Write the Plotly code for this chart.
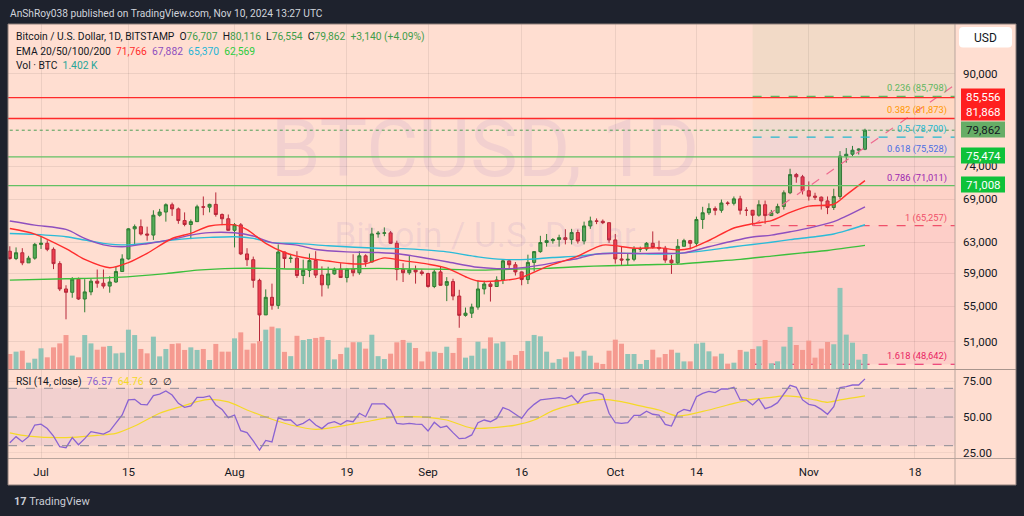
import math
import pandas as pd
import plotly.graph_objects as go

# ---------------- DATA ----------------
dates = pd.date_range("2024-06-26", "2024-11-10", freq="D")

open_ = [
    61800, 60850, 61600, 60300, 60900,
    62700, 62850, 62050, 60200, 57050, 56650, 58250, 55850, 56700, 58000,
    57750, 57400, 57900, 59200, 60800, 64800, 65100, 64100, 63950, 66700,
    67150, 68200, 67600, 65950, 65400, 65800, 67900, 67850, 68250, 66800, 66200,
    64600, 65350, 61450, 60700, 58100, 54000, 56050, 55100, 61700, 60850,
    60900, 58700, 59350, 60600, 58750, 57550, 58900, 59500, 58450, 59500,
    59050, 61200, 60400, 64100, 64200, 64250, 62850, 59450, 59050, 59400, 59150,
    58950, 57350, 59150, 57500, 57950, 56200, 53950, 54200, 54900, 57050,
    57650, 57350, 58150, 60550, 60050, 59150, 58200, 60350, 61750, 62950,
    63200, 63350, 63600, 63350, 64300, 63150, 65200, 65900, 65850, 65650,
    63300, 60800, 60650, 60750, 62100, 62100, 62850, 62300, 62200, 60650,
    60300, 62450, 63200, 62850, 66100, 67050, 67650, 67400, 68450, 68400,
    69050, 67400, 67400, 66700, 68200, 66650, 67050, 67950, 69950, 72700, 72350,
    70250, 69450, 69300, 68750, 67800, 69400, 75600, 75900, 76550, 76707,
]
high = [
    62450, 62300, 62200, 61200, 62900,
    63800, 63250, 62300, 60500, 57500, 58500, 58450, 58250, 58300, 59450,
    59450, 58600, 59800, 61400, 64900, 65400, 66100, 65100, 67400, 67600,
    68400, 68500, 67800, 67100, 66100, 68200, 69400, 68350, 70000, 66950, 66800,
    65600, 65600, 62200, 61100, 58300, 57000, 57700, 62700, 61750, 61450,
    61800, 60700, 61500, 61800, 59850, 59800, 59700, 60250, 59600, 61400,
    61800, 61400, 64950, 64500, 65000, 64500, 63200, 60250, 61200, 59950, 59450,
    59050, 59400, 59800, 58500, 58300, 56950, 54850, 55300, 58100, 58050,
    57950, 58600, 60650, 60650, 60400, 59200, 61350, 61800, 63850, 64100,
    63550, 64000, 64750, 64800, 64700, 65800, 66500, 66250, 66100, 65650,
    64100, 62400, 61450, 62450, 62400, 63000, 64450, 63200, 62500, 61300,
    63400, 63450, 63300, 66500, 67900, 68400, 67950, 68950, 68700, 69400,
    69500, 67850, 67450, 68850, 68800, 67450, 68350, 70300, 73600, 72950, 72650,
    71650, 69950, 69400, 69400, 70550, 76400, 76900, 77250, 76850, 80116,
]
low = [
    60700, 60650, 60000, 60300, 60700,
    62100, 61800, 59500, 56800, 53500, 56000, 55750, 54300, 56300, 57200,
    57100, 56600, 57800, 59200, 60700, 62500, 63900, 63200, 63300, 66500,
    65800, 66600, 65500, 65150, 63400, 65800, 66700, 67100, 66500, 65300, 64550,
    62300, 61300, 59900, 57200, 49050, 54000, 54600, 54700, 59600, 60300,
    58400, 57650, 58500, 58400, 56150, 57100, 58800, 58400, 57850, 58600,
    58800, 59800, 60350, 63600, 63800, 62800, 58100, 57900, 58800, 57700, 58700,
    57200, 57150, 57450, 55600, 55700, 52550, 53800, 53650, 54600, 56400,
    55550, 57350, 57650, 59600, 58700, 57500, 57650, 59200, 61600, 62400,
    62800, 62400, 62700, 62700, 62800, 62700, 64800, 65450, 65450, 62900,
    60200, 59950, 59900, 60500, 61700, 61850, 62150, 61900, 60300, 58900,
    60100, 62450, 62050, 62450, 64800, 66750, 66700, 67050, 68100, 68100,
    66800, 66600, 65257, 66500, 65500, 66600, 66900, 67500, 69750, 71450, 69700,
    68800, 68900, 67500, 66850, 67450, 69050, 74550, 75600, 75850, 76554,
]
close = [
    60850, 61600, 60300, 60900, 62700,
    62850, 62050, 60200, 57050, 56650, 58250, 55850, 56700, 58000, 57750,
    57400, 57900, 59200, 60800, 64800, 65100, 64100, 63950, 66700, 67150,
    68200, 67600, 65950, 65400, 65800, 67900, 67850, 68250, 66800, 66200, 64600,
    65350, 61450, 60700, 58100, 54000, 56050, 55100, 61700, 60850, 60900,
    58700, 59350, 60600, 58750, 57550, 58900, 59500, 58450, 59500, 59050,
    61200, 60400, 64100, 64200, 64250, 62850, 59450, 59050, 59400, 59150, 58950,
    57350, 59150, 57500, 57950, 56200, 53950, 54200, 54900, 57050, 57650,
    57350, 58150, 60550, 60050, 59150, 58200, 60350, 61750, 62950, 63200,
    63350, 63600, 63350, 64300, 63150, 65200, 65900, 65850, 65650, 63300,
    60800, 60650, 60750, 62100, 62100, 62850, 62300, 62200, 60650, 60300,
    62450, 63200, 62850, 66100, 67050, 67650, 67400, 68450, 68400, 69050,
    67400, 67400, 66700, 68200, 66650, 67050, 67950, 69950, 72700, 72350, 70250,
    69450, 69300, 68750, 67800, 69400, 75600, 75900, 76550, 76722, 79862,
]
volume = [
    1400, 1620, 1710, 590, 960,
    1930, 1090, 2020, 2390, 3170, 1250, 1090, 3170, 2390, 1800,
    2080, 2150, 1460, 1520, 3670, 3170, 1870, 1460, 3020, 1180,
    1870, 2340, 2390, 1780, 2020, 1780, 1870, 840, 2340, 1620, 1620,
    2860, 3420, 1800, 2390, 2600, 3670, 3950, 3800, 1600, 1200,
    3100, 2700, 2800, 2900, 3000, 2700, 900, 1400, 2000, 2500,
    2500, 1900, 3200, 1200, 930, 1430, 2490, 2710, 2460, 1960, 710,
    1620, 1620, 1500, 2080, 1500, 2900, 1060, 1240, 2550, 1900,
    2950, 2390, 2550, 780, 1310, 1680, 2620, 3180, 3050, 1620,
    590, 930, 1080, 1620, 1180, 1710, 1240, 590, 470, 1710,
    2740, 2360, 1400, 1400, 470, 840, 1800, 1080, 1400, 1800,
    1520, 710, 710, 2360, 2460, 1650, 1180, 1430, 500, 590,
    1780, 1620, 1870, 2120, 2710, 530, 720, 2090, 3930, 2240, 1780,
    2650, 1060, 1900, 2520, 2310, 7570, 3210, 2460, 870, 1402,
]
rsi = [
    32.0, 36.3, 32.8, 36.3, 44.4,
    45.0, 42.0, 36.7, 29.3, 28.6, 35.6, 30.7, 34.9, 39.8, 39.0,
    38.1, 40.2, 45.6, 51.4, 61.9, 62.3, 58.8, 58.4, 64.9, 66.0,
    68.1, 65.3, 59.5, 56.7, 57.7, 63.7, 63.7, 64.7, 58.4, 55.3, 49.5,
    51.4, 40.5, 39.1, 33.3, 27.0, 33.7, 32.6, 49.5, 47.9, 47.9,
    44.0, 45.6, 48.4, 44.4, 41.9, 45.6, 46.7, 44.7, 47.4, 46.7,
    52.6, 50.2, 59.1, 59.1, 59.1, 54.9, 45.6, 45.1, 45.6, 45.1, 44.9,
    40.2, 46.3, 42.6, 43.7, 39.1, 34.9, 35.3, 37.5, 46.0, 47.9,
    46.7, 49.0, 56.5, 54.9, 51.9, 49.0, 54.9, 58.8, 61.9, 62.6,
    63.0, 63.5, 62.6, 64.9, 60.0, 65.3, 66.7, 67.0, 65.6, 52.6,
    46.0, 45.6, 46.0, 51.2, 51.2, 54.0, 51.9, 51.4, 44.9, 43.7,
    53.0, 55.3, 54.2, 64.2, 66.5, 67.9, 67.0, 69.5, 69.5, 70.7,
    61.9, 61.9, 58.4, 62.6, 55.8, 57.2, 60.0, 66.0, 72.1, 70.7, 61.9,
    58.8, 57.9, 55.3, 51.9, 57.2, 70.5, 71.2, 72.3, 72.3, 76.57,
]
rsi_ma_dates = ["2024-06-26", "2024-06-29", "2024-07-05", "2024-07-10", "2024-07-13",
                "2024-07-16", "2024-07-20", "2024-07-23", "2024-07-26", "2024-07-28",
                "2024-07-31", "2024-08-03", "2024-08-07", "2024-08-10", "2024-08-14",
                "2024-08-19", "2024-08-22", "2024-08-25", "2024-08-28", "2024-09-01",
                "2024-09-04", "2024-09-08", "2024-09-12", "2024-09-15", "2024-09-18",
                "2024-09-21", "2024-09-24", "2024-09-29", "2024-10-02", "2024-10-05",
                "2024-10-08", "2024-10-11", "2024-10-16", "2024-10-20", "2024-10-23",
                "2024-10-26", "2024-10-28", "2024-10-30", "2024-11-02", "2024-11-04",
                "2024-11-06", "2024-11-10"]
rsi_ma = [39.0, 36.7, 35.6, 37.2, 38.6, 43.7, 52.6, 56.7, 60.7, 62.3,
          60.5, 54.9, 48.4, 44.4, 41.4, 44.4, 46.7, 49.0, 50.2, 49.8,
          47.9, 42.3, 42.8, 44.4, 47.9, 54.4, 58.4, 62.3, 60.7, 57.7,
          54.9, 50.7, 54.9, 59.5, 62.3, 63.7, 64.7, 64.2, 61.9, 60.2,
          61.9, 64.76]

ema20_dates = ["2024-06-26", "2024-06-30", "2024-07-05", "2024-07-08", "2024-07-12", "2024-07-15",
               "2024-07-18", "2024-07-22", "2024-07-25", "2024-07-28", "2024-08-01", "2024-08-03",
               "2024-08-06", "2024-08-09", "2024-08-12", "2024-08-16", "2024-08-19", "2024-08-22",
               "2024-08-25", "2024-08-28", "2024-09-01", "2024-09-04", "2024-09-07", "2024-09-09",
               "2024-09-12", "2024-09-16", "2024-09-20", "2024-09-25", "2024-09-29", "2024-10-04",
               "2024-10-08", "2024-10-11", "2024-10-13", "2024-10-16", "2024-10-20", "2024-10-23",
               "2024-10-26", "2024-10-29", "2024-11-01", "2024-11-05", "2024-11-07", "2024-11-10"]
ema20 = [64850, 64090, 62140, 60730, 59680, 60330, 61530, 63490, 64190, 65200, 65350, 64690,
         62840, 61630, 60980, 60530, 60230, 60180, 60930, 60580, 60130, 59630, 58550, 58020,
         58020, 58470, 59810, 61160, 62610, 62200, 62240, 61970, 62160, 63220, 64920, 65500,
         65950, 67100, 68000, 68270, 69630, 71766]

ema50_dates = ["2024-06-26", "2024-06-30", "2024-07-05", "2024-07-08", "2024-07-11", "2024-07-14",
               "2024-07-18", "2024-07-22", "2024-07-25", "2024-07-28", "2024-08-01", "2024-08-04",
               "2024-08-07", "2024-08-11", "2024-08-14", "2024-08-19", "2024-08-24", "2024-08-28",
               "2024-09-01", "2024-09-04", "2024-09-09", "2024-09-12", "2024-09-15", "2024-09-19",
               "2024-09-22", "2024-09-25", "2024-09-28", "2024-10-01", "2024-10-04", "2024-10-08",
               "2024-10-12", "2024-10-16", "2024-10-20", "2024-10-23", "2024-10-26", "2024-10-29",
               "2024-11-01", "2024-11-05", "2024-11-07", "2024-11-10"]
ema50 = [65880, 65320, 64720, 63510, 62640, 62390, 62790, 63370, 63940, 64290, 64260, 63820,
         62930, 62610, 62030, 61720, 61630, 61380, 60860, 60440, 59730, 59560, 59600, 60010,
         60440, 60860, 61420, 61530, 61510, 61530, 61590, 62390, 63190, 63690, 63950, 64400,
         64900, 65800, 66560, 67882]

ema100_dates = ["2024-06-26", "2024-06-30", "2024-07-05", "2024-07-08", "2024-07-11", "2024-07-15",
                "2024-07-19", "2024-07-22", "2024-07-25", "2024-07-28", "2024-08-01", "2024-08-04",
                "2024-08-07", "2024-08-11", "2024-08-16", "2024-08-24", "2024-08-28", "2024-09-01",
                "2024-09-04", "2024-09-09", "2024-09-13", "2024-09-17", "2024-09-21", "2024-09-25",
                "2024-09-29", "2024-10-04", "2024-10-08", "2024-10-12", "2024-10-16", "2024-10-20",
                "2024-10-23", "2024-10-26", "2024-10-29", "2024-11-02", "2024-11-05", "2024-11-07",
                "2024-11-10"]
ema100 = [64170, 64040, 63730, 63280, 62840, 62640, 62970, 63280, 63510, 63640, 63730, 63510,
          62930, 62840, 62520, 62190, 62140, 61940, 61720, 61070, 60740, 60740, 60990, 61160,
          61510, 61510, 61420, 61590, 61940, 62390, 62690, 62990, 63340, 63730, 64100, 64550,
          65370]

ema200_dates = ["2024-06-26", "2024-07-05", "2024-07-13", "2024-07-21", "2024-07-26", "2024-08-01",
                "2024-08-06", "2024-08-11", "2024-08-17", "2024-08-24", "2024-08-30", "2024-09-04",
                "2024-09-09", "2024-09-14", "2024-09-20", "2024-09-25", "2024-09-30", "2024-10-06",
                "2024-10-11", "2024-10-16", "2024-10-21", "2024-10-26", "2024-10-31", "2024-11-04",
                "2024-11-10"]
ema200 = [58130, 58300, 58470, 58940, 59370, 59600, 59600, 59510, 59490, 59600, 59510, 59490,
          59370, 59490, 59600, 59810, 59930, 60060, 60140, 60440, 60740, 61160, 61590, 61900,
          62569]

# Fibonacci retracement drawing (ratios / prices as labelled)
fib_ratios = ["0.236", "0.382", "0.5", "0.618", "0.786", "1", "1.618"]
fib_prices = [85798, 81873, 78700, 75528, 71011, 65257, 48642]
fib_dashed = [True, False, True, False, False, True, True]   # others sit under the author's solid lines
fib_zero_price = 92143
fib_start = "2024-10-23"
fib_end = "2024-11-29 12:00"
fib_far = "2024-12-31"

# Horizontal lines drawn by the author
red_levels = [85556, 81868]
green_levels = [75474, 71008]
line_span = ["2024-06-01", "2024-12-31"]

price_ticks = [51000, 55000, 59000, 63000, 69000, 74000, 90000]
rsi_ticks = [25, 50, 75]
x_tick_dates = ["2024-07-01", "2024-07-15", "2024-08-01", "2024-08-19", "2024-09-01",
                "2024-09-16", "2024-10-01", "2024-10-14", "2024-11-01", "2024-11-18"]
x_tick_text = ["Jul", "15", "Aug", "19", "Sep", "16", "Oct", "14", "Nov", "18"]

# ---------------- LAYOUT HELPERS ----------------
W, H = 1024, 516
PL, PR, PT, PB = 8, 955, 24, 458          # plot box (pixels)
PRICE_BOTTOM, RSI_TOP = 369, 370
X0 = pd.Timestamp("2024-06-25 17:00")
PX_PER_DAY = 6.242


def fx(x):
    return (x - PL) / (PR - PL)


def fy(y):
    return (PB - y) / (PB - PT)


def price_at(ypx):
    return 90000 * math.exp(-(ypx - 73.8) / 472.0)


def date_at(xpx):
    return X0 + pd.Timedelta(days=(xpx - PL) / PX_PER_DAY)


X_RANGE = [X0, date_at(PR)]
BG = "#ffded1"
DARK = "#1e222d"
TXT = "#131722"
FONT = "Roboto, sans-serif"

fig = go.Figure()


def add(tr):
    fig.add_trace(tr)


def hline(p, color, width=1.2, dash="solid", span=None):
    xs = span or line_span
    add(go.Scatter(x=xs, y=[p, p], mode="lines", line=dict(color=color, width=width, dash=dash),
                   xaxis="x", yaxis="y", hoverinfo="skip", showlegend=False))


# watermark (behind everything)
add(go.Scatter(x=[date_at(485)], y=[price_at(156)], mode="text", text=["BTCUSD, 1D"],
               textfont=dict(size=80, color="rgba(126,87,194,0.10)", family=FONT),
               xaxis="x", yaxis="y", hoverinfo="skip", showlegend=False))
add(go.Scatter(x=[date_at(485)], y=[price_at(238)], mode="text", text=["Bitcoin / U.S. Dollar"],
               textfont=dict(size=35, color="rgba(126,87,194,0.10)", family=FONT),
               xaxis="x", yaxis="y", hoverinfo="skip", showlegend=False))

# fib background bands (each band takes the colour of its lower level)
fib_fills = ["rgba(76,175,80,0.075)", "rgba(255,152,0,0.06)", "rgba(0,188,212,0.06)",
             "rgba(41,98,255,0.06)", "rgba(156,39,176,0.06)", "rgba(242,54,69,0.07)",
             "rgba(233,30,99,0.08)"]
band_tops = [price_at(0)] + fib_prices[:-1]
for top, bot, col in zip(band_tops, fib_prices, fib_fills):
    add(go.Scatter(x=[fib_start, fib_far, fib_far, fib_start, fib_start], y=[bot, bot, top, top, bot],
                   mode="lines", fill="toself", fillcolor=col, line=dict(width=0),
                   xaxis="x", yaxis="y", hoverinfo="skip", showlegend=False))

vol_colors = ["#8fc4b7" if c >= o else "#f59a90" for o, c in zip(open_, close)]
add(go.Bar(x=dates, y=volume, marker=dict(color=vol_colors, line=dict(width=0)),
           width=0.8 * 86400000, xaxis="x", yaxis="y2", hoverinfo="skip", showlegend=False))

# fib level lines + trend line
fib_line_cols = ["#5fb760", "#ff9800", "#22b8cf", "#4a6fe3", "#9c27b0", "#f0506a", "#e91e63"]
for p, col, dashed in zip(fib_prices, fib_line_cols, fib_dashed):
    if dashed:
        hline(p, col, dash="dash", span=[fib_start, fib_far])
add(go.Scatter(x=[fib_start, fib_end], y=[fib_prices[5], fib_zero_price], mode="lines",
               line=dict(color="#ee6a8f", width=1.2, dash="dash"),
               xaxis="x", yaxis="y", hoverinfo="skip", showlegend=False))

# last-price dotted line
hline(close[-1], "#4f9f55", width=1, dash="dot")

add(go.Candlestick(x=dates, open=open_, high=high, low=low, close=close,
                   increasing=dict(line=dict(color="#2e7d32", width=1), fillcolor="#55ad58"),
                   decreasing=dict(line=dict(color="#b7283a", width=1), fillcolor="#ee3f4f"),
                   xaxis="x", yaxis="y", hoverinfo="skip", showlegend=False))

for xs, ys, col in [(ema200_dates, ema200, "#3cbf3c"), (ema100_dates, ema100, "#2bbbd8"),
                    (ema50_dates, ema50, "#8e4fbf"), (ema20_dates, ema20, "#ff2d2d")]:
    add(go.Scatter(x=xs, y=ys, mode="lines", line=dict(color=col, width=1.4, shape="spline", smoothing=0.8),
                   xaxis="x", yaxis="y", hoverinfo="skip", showlegend=False))

# author's horizontal support / resistance lines
for p in red_levels:
    hline(p, "#ff2a2a", width=1.3)
for p in green_levels:
    hline(p, "#63c063", width=1.3)

add(go.Scatter(x=rsi_ma_dates, y=rsi_ma, mode="lines",
               line=dict(color="#f5d927", width=1.2, shape="spline", smoothing=0.8),
               xaxis="x2", yaxis="y3", hoverinfo="skip", showlegend=False))
add(go.Scatter(x=dates, y=rsi, mode="lines", line=dict(color="#8a63d2", width=1.3),
               xaxis="x2", yaxis="y3", hoverinfo="skip", showlegend=False))

# ---------------- SHAPES ----------------
shapes = []
shapes.append(dict(type="rect", xref="paper", yref="paper", x0=fx(8), x1=fx(1016), y0=fy(485), y1=fy(24),
                   fillcolor=BG, line=dict(width=0), layer="below"))

shapes.append(dict(type="rect", xref="paper", yref="y3", x0=0, x1=1, y0=30, y1=70,
                   fillcolor="rgba(126,87,194,0.10)", line=dict(width=0), layer="below"))
for lv in [70, 50, 30]:
    shapes.append(dict(type="line", xref="paper", yref="y3", x0=0, x1=1, y0=lv, y1=lv,
                       line=dict(color="#8a8a94", width=1, dash="dash")))

sep = "#b9a59d"
shapes.append(dict(type="line", xref="paper", yref="paper", x0=fx(955), x1=fx(955), y0=fy(485), y1=fy(24),
                   line=dict(color=sep, width=1)))
shapes.append(dict(type="line", xref="paper", yref="paper", x0=fx(8), x1=fx(1016), y0=fy(369.5), y1=fy(369.5),
                   line=dict(color="#a8958d", width=1.2)))
shapes.append(dict(type="line", xref="paper", yref="paper", x0=fx(8), x1=fx(1016), y0=fy(458.5), y1=fy(458.5),
                   line=dict(color=sep, width=1)))
shapes.append(dict(type="rect", xref="paper", yref="paper", x0=fx(8), x1=fx(1016), y0=fy(485), y1=fy(24),
                   fillcolor="rgba(0,0,0,0)", line=dict(color="#8d7f7a", width=1)))

box_x0, box_x1 = fx(961), fx(1005)
price_boxes = [
    (88.5, 120.5, "#ff1f1f"),
    (121.5, 137.5, "#66ad66"),
    (147.5, 163.5, "#0fc23a"),
    (176.5, 192.5, "#0fc23a"),
]
for tp, bt, col in price_boxes:
    shapes.append(dict(type="rect", xref="paper", yref="paper", x0=box_x0, x1=box_x1, y0=fy(bt), y1=fy(tp),
                       fillcolor=col, line=dict(width=0), layer="above"))

ux0, ux1, uy0, uy1 = fx(959), fx(1012), fy(47.5), fy(27)
rx, ry = 4 / (PR - PL), 4 / (PB - PT)
path = (f"M {ux0 + rx},{uy0} L {ux1 - rx},{uy0} Q {ux1},{uy0} {ux1},{uy0 + ry} L {ux1},{uy1 - ry} "
        f"Q {ux1},{uy1} {ux1 - rx},{uy1} L {ux0 + rx},{uy1} Q {ux0},{uy1} {ux0},{uy1 - ry} "
        f"L {ux0},{uy0 + ry} Q {ux0},{uy0} {ux0 + rx},{uy0} Z")
shapes.append(dict(type="path", xref="paper", yref="paper", path=path, fillcolor="#ffffff",
                   line=dict(width=0), layer="above"))

# ---------------- ANNOTATIONS ----------------
ann = []


def txt(x, y, s, size=11, color=TXT, xanchor="left", yanchor="middle"):
    ann.append(dict(x=x, y=y, xref="paper", yref="paper", text=s, showarrow=False, xanchor=xanchor,
                    yanchor=yanchor, font=dict(size=size, color=color, family=FONT)))


NB = "\u00a0"
g = "#3f9d4a"
chg = close[-1] - close[-2]
pct = chg / close[-2] * 100
txt(fx(8), fy(13), "AnShRoy038 published on TradingView.com, Nov 10, 2024 13:27 UTC", size=10.2,
    color="#d1d4dc")
row1 = (f"Bitcoin / U.S. Dollar, 1D, BITSTAMP{NB}{NB}O<span style='color:{g}'>{open_[-1]:,}</span>"
        f"{NB}{NB}H<span style='color:{g}'>{high[-1]:,}</span>{NB}{NB}L<span style='color:{g}'>{low[-1]:,}</span>"
        f"{NB}{NB}C<span style='color:{g}'>{close[-1]:,}</span>{NB}{NB}"
        f"<span style='color:{g}'>+{chg:,} (+{pct:.2f}%)</span>")
txt(fx(14), fy(36), row1, size=10.3)
row2 = (f"EMA 20/50/100/200{NB}{NB}<span style='color:#ff2d2d'>{ema20[-1]:,}</span>{NB}{NB}"
        f"<span style='color:#8e4fbf'>{ema50[-1]:,}</span>{NB}{NB}<span style='color:#1fb5d6'>{ema100[-1]:,}</span>"
        f"{NB}{NB}<span style='color:#2ecc40'>{ema200[-1]:,}</span>")
txt(fx(14), fy(51), row2, size=10.3)
row3 = f"Vol · BTC{NB}{NB}<span style='color:#26a69a'>{volume[-1] / 1000:.3f}{NB}K</span>"
txt(fx(14), fy(65.5), row3, size=10.3)
rsi_lbl = (f"RSI (14, close){NB}{NB}<span style='color:#8a63d2'>{rsi[-1]:.2f}</span>{NB}{NB}"
           f"<span style='color:#f5d927'>{rsi_ma[-1]:.2f}</span>{NB}{NB}∅{NB}{NB}∅")
txt(fx(14), fy(381), rsi_lbl, size=10.3)

for r, p, col in zip(fib_ratios, fib_prices, fib_line_cols):
    ann.append(dict(x=fx(949), y=math.log10(p), xref="paper", yref="y", text=f"{r} ({p:,})",
                    showarrow=False, xanchor="right", yanchor="bottom", yshift=0,
                    font=dict(size=9.3, color=col, family=FONT)))

box_texts = [(96.5, f"{red_levels[0]:,}", "#ffffff"), (112.5, f"{red_levels[1]:,}", "#ffffff"),
             (129.5, f"{close[-1]:,}", TXT), (155.5, f"{green_levels[0]:,}", "#ffffff"),
             (184.5, f"{green_levels[1]:,}", "#ffffff")]
for yc, s, col in box_texts:
    txt(fx(983), fy(yc), s, size=11.5, color=col, xanchor="center")
txt(fx(985.5), fy(37.5), "USD", size=12, color=TXT, xanchor="center")

txt(fx(12), fy(501), "<b>17</b> TradingView", size=11, color="#c9ccd4")

fig.update_layout(
    width=W, height=H, margin=dict(l=PL, r=W - PR, t=PT, b=H - PB),
    paper_bgcolor=DARK, plot_bgcolor=BG, showlegend=False, shapes=shapes, annotations=ann,
    font=dict(family=FONT, color=TXT),
    xaxis=dict(domain=[0, 1], anchor="y", range=X_RANGE, type="date", showticklabels=False,
               tickvals=x_tick_dates, showgrid=True, gridcolor="rgba(0,0,0,0.07)", gridwidth=1,
               zeroline=False, rangeslider=dict(visible=False), showline=False, fixedrange=True),
    yaxis=dict(domain=[fy(PRICE_BOTTOM), 1], type="log", side="right",
               range=[math.log10(price_at(PRICE_BOTTOM)), math.log10(price_at(PT))],
               tickvals=price_ticks, ticktext=[f"{v:,}" for v in price_ticks],
               tickfont=dict(size=11.5, color=TXT, family=FONT), ticklabelstandoff=7,
               showgrid=True, gridcolor="rgba(0,0,0,0.07)", zeroline=False, showline=False),
    yaxis2=dict(overlaying="y", range=[0, 32200], visible=False),
    xaxis2=dict(domain=[0, 1], anchor="y3", range=X_RANGE, type="date", matches="x",
                tickvals=x_tick_dates, ticktext=x_tick_text, tickfont=dict(size=11.5, color=TXT, family=FONT),
                ticklabelstandoff=5, showgrid=True, gridcolor="rgba(0,0,0,0.07)", zeroline=False,
                showline=False, ticks=""),
    yaxis3=dict(domain=[0, fy(RSI_TOP)], range=[21.43, 82.75], side="right",
                tickvals=rsi_ticks, ticktext=[f"{v:.2f}" for v in rsi_ticks],
                tickfont=dict(size=11.5, color=TXT, family=FONT), ticklabelstandoff=7,
                showgrid=True, gridcolor="rgba(0,0,0,0.05)", zeroline=False, showline=False),
)

# remove the browser's default 8px page margin so the figure sits at the window origin
fig.write_html("out.html", config={"displayModeBar": False},
               post_script="document.body.style.margin='0';document.body.style.background='#1e222d';")
